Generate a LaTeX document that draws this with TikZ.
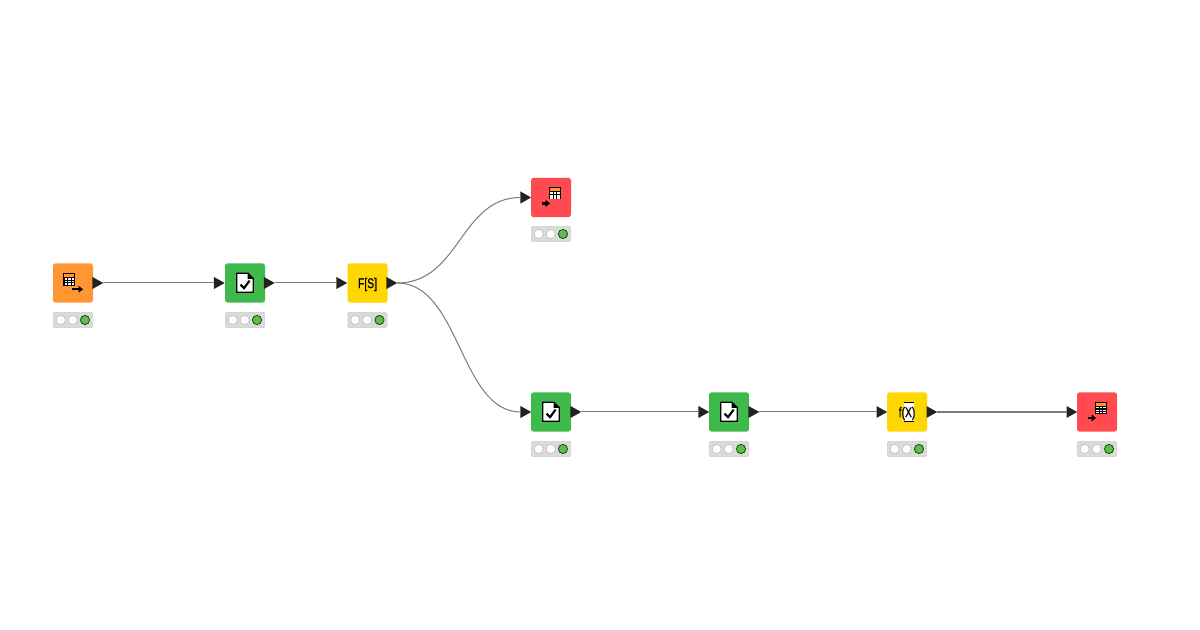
\documentclass[tikz,border=0pt]{standalone}
\usepackage{fontspec}
\newfontfamily\iconfont[FakeStretch=0.74,FakeBold=0.6]{Liberation Sans}
\usetikzlibrary{shapes.geometric}

\definecolor{readorange}{HTML}{FF9632}
\definecolor{checkgreen}{HTML}{3FB84C}
\definecolor{expryellow}{HTML}{FFD700}
\definecolor{writered}{HTML}{FF4B4F}
\definecolor{statusgray}{HTML}{DADCDA}
\definecolor{lightgreen}{HTML}{68B852}
\definecolor{wire}{HTML}{7A7A7A}
\definecolor{porttip}{HTML}{222222}

\tikzset{
  box/.style={rectangle, rounded corners=2pt, minimum width=30pt, minimum height=29.5pt, inner sep=0pt},
  readbox/.style={box, fill=readorange},
  checkbox/.style={box, fill=checkgreen},
  exprbox/.style={box, fill=expryellow},
  exprtext/.style={font=\iconfont\fontsize{10.5}{12}\selectfont, inner sep=0pt},
  writebox/.style={box, fill=writered},
  statusbox/.style={rectangle, rounded corners=1pt, minimum width=29.5pt, minimum height=11.5pt, inner sep=0pt, fill=statusgray, draw=black!20, line width=0.4pt},
  port/.style={isosceles triangle, isosceles triangle stretches, shape border rotate=0, minimum width=9pt, minimum height=8pt, inner sep=0pt, outer sep=0pt, fill=porttip},
  link/.style={draw=wire, line width=0.75pt},
  readicon/.pic={
    \fill[black] (-9.7,-9.7) rectangle (2.3,2.7);
    \fill[readorange] (-8.7,-8.7) rectangle (1.3,-5.9);
    \foreach \u in {-8.4,-4.9,-1.4} \foreach \v in {-4.7,-2.1,0.3}
      \fill[white] (\u,\v) rectangle ++(2.4,1.5);
    \draw[black, line width=1.7pt] (-1.3,6.3) -- (6,6.3);
    \fill[black] (5.5,2.7) -- (10,6.3) -- (5.5,9.9) -- cycle;
  },
  writeicon/.pic={
    \fill[black] (-2,-10) rectangle (10,2);
    \fill[readorange] (-1,-9) rectangle (9,-6.2);
    \foreach \u in {-0.7,2.8,6.3} \foreach \v in {-5,-2.4,0}
      \fill[white] (\u,\v) rectangle ++(2.4,1.5);
    \draw[black, line width=1.7pt] (-9.5,6) -- (-3,6);
    \fill[black] (-5.5,2.4) -- (-1,6) -- (-5.5,9.6) -- cycle;
  },
  checkicon/.pic={
    \fill[white] (-8.3,-9.7) -- (3,-9.7) -- (8.3,-4.5) -- (8.3,9.3) -- (-8.3,9.3) -- cycle;
    \draw[black, line width=1pt] (-8.3,-9.7) -- (3,-9.7) -- (8.3,-4.5) -- (8.3,9.3) -- (-8.3,9.3) -- cycle;
    \fill[black] (2.5,-9.7) -- (8.3,-4) -- (2.5,-4) -- cycle;
    \draw[black, line width=1.6pt] (-4.4,1.6) -- (-1,5.2) -- (4.6,-2.4);
  },
  lights/.pic={
    \draw[black!25, fill=white, line width=0.5pt] (-12.3,0) circle (4.6);
    \draw[black!25, fill=white, line width=0.5pt] (-0.3,0) circle (4.6);
    \draw[green!35!black, fill=lightgreen, line width=0.6pt] (12,0) circle (4.6);
  }
}

\begin{document}
\begin{tikzpicture}[x=0.75pt, y=-0.75pt]
\useasboundingbox[fill=white] (0,0) rectangle (1200,630);

% workflow boxes
\node (n1) at (73,283) [readbox] {};
\node (n2) at (245,283) [checkbox] {};
\node (n3) at (367.5,283) [exprbox] {};
\node (n4) at (551,197.5) [writebox] {};
\node (n5) at (551,412) [checkbox] {};
\node (n6) at (729,412) [checkbox] {};
\node (n7) at (907,412) [exprbox] {};
\node (n8) at (1097,412) [writebox] {};

% icons
\pic at (n1) {readicon};
\pic at (n2) {checkicon};
\pic at (n5) {checkicon};
\pic at (n6) {checkicon};
\pic at (n4) {writeicon};
\pic at (n8) {writeicon};

\fill[white] (904.3,402.3) rectangle (914,421.7);
\draw[black, line width=0.8pt] (904.3,402.3) -- (914,402.3);
\draw[black, line width=0.8pt] (904.3,421.7) -- (914,421.7);
\node (t3) at (367.5,284.5) [exprtext] {F[S]};
\node (t7) at (907,413.5) [exprtext] {f(X)};

% status
\node (s1) at (73,320) [statusbox] {};
\node (s2) at (245,320) [statusbox] {};
\node (s3) at (367.5,320) [statusbox] {};
\node (s4) at (551,234) [statusbox] {};
\node (s5) at (551,449) [statusbox] {};
\node (s6) at (729,449) [statusbox] {};
\node (s7) at (907,449) [statusbox] {};
\node (s8) at (1097,449) [statusbox] {};
\pic at (s1) {lights};
\pic at (s2) {lights};
\pic at (s3) {lights};
\pic at (s4) {lights};
\pic at (s5) {lights};
\pic at (s6) {lights};
\pic at (s7) {lights};
\pic at (s8) {lights};

% ports
\node (o1) at (96,283) [port] {};
\node (i2) at (217.5,283) [port] {};
\node (o2) at (267.5,283) [port] {};
\node (i3) at (340,283) [port] {};
\node (o3) at (390,283) [port] {};
\node (i4) at (524,197.5) [port] {};
\node (i5) at (524,412) [port] {};
\node (o5) at (574,412) [port] {};
\node (i6) at (702,412) [port] {};
\node (o6) at (752,412) [port] {};
\node (i7) at (880,412) [port] {};
\node (o7) at (930,412) [port] {};
\node (i8) at (1070,412) [port] {};

% connectors
\draw[link] (o1.east) to (i2.west);
\draw[link] (o2.east) to (i3.west);
\draw[link] (o3.east) .. controls (460,283) and (460,197.5) .. (i4.west);
\draw[link] (o3.east) .. controls (460,283) and (460,412) .. (i5.west);
\draw[link] (o5.east) to (i6.west);
\draw[link] (o6.east) to (i7.west);
\draw[link, line width=1.1pt] (o7.east) to (i8.west);

\end{tikzpicture}
\end{document}
